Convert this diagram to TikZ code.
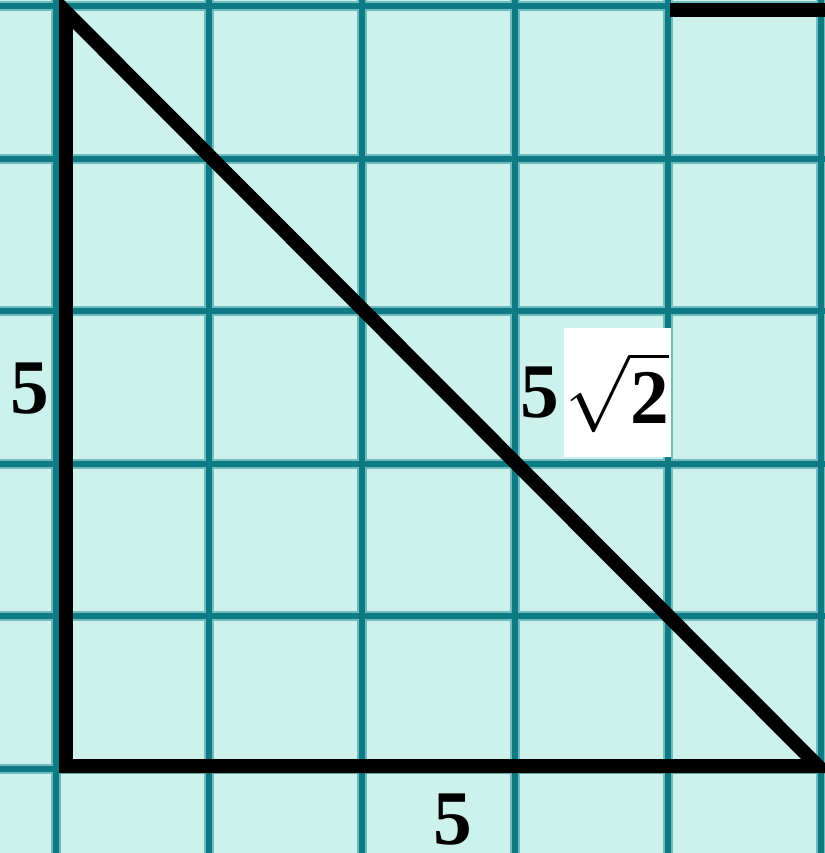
\documentclass[tikz,border=0pt]{standalone}
\usepackage{fix-cm}
\usepackage{fontspec}
\setmainfont{Liberation Serif}
\usepackage{xcolor}
\usetikzlibrary{positioning}
\DeclareFontShape{OMX}{cmex}{m}{n}{<->cmex10}{}
\definecolor{paper}{RGB}{204,242,235}
\definecolor{gridline}{RGB}{14,122,132}
\definecolor{gridhalo}{RGB}{110,188,192}

\begin{document}
\begin{tikzpicture}
[
	x = 0.02cm, y = -0.02cm,
	gridglow/.style = {draw = gridhalo, line width = 0.2cm},
	gridrule/.style = {draw = gridline, line width = 0.12cm},
	edge/.style = {draw = black, line width = 0.28cm, line join = miter},
	side/.style = {font = \fontsize{44}{48}\selectfont\bfseries, inner sep = 0cm},
	plate/.style = {fill = white, minimum width = 2.14cm, minimum height = 2.58cm, inner sep = 0cm},
]
	\useasboundingbox (0,0) rectangle (825,853);
	\clip (0,0) rectangle (825,853);
	\fill [paper] (0,0) rectangle (825,853);

	% squared paper
	\foreach \i in {0,...,5} {
		\draw [gridglow] ({56+153*\i},0) -- ({56+153*\i},853);
		\draw [gridglow] (0,{6+152.5*\i}) -- (825,{6+152.5*\i});
	}
	\foreach \i in {0,...,5} {
		\draw [gridrule] ({56+153*\i},0) -- ({56+153*\i},853);
		\draw [gridrule] (0,{6+152.5*\i}) -- (825,{6+152.5*\i});
	}

	% triangle
	\coordinate (apex) at (66,12);
	\coordinate (corner) at (66,766);
	\coordinate (foot) at (818,766);
	\draw [edge] (apex) -- (corner) -- (foot) -- cycle;

	% piece of the next figure
	\coordinate (nextL) at (670,10);
	\coordinate (nextR) at (840,10);
	\draw [edge] (nextL) -- (nextR);

	% side lengths
	\node (legA) [side] at (30,389) {5};
	\node (legB) [side] at (453,820) {5};
	\node (plate) [plate] at (617.5,392.5) {};
	\node (rad) [side] at (plate) {$\sqrt{\textbf{2}}$};
	\node (hyp) [side, left = 0.08cm of plate] {5};

\end{tikzpicture}
\end{document}
